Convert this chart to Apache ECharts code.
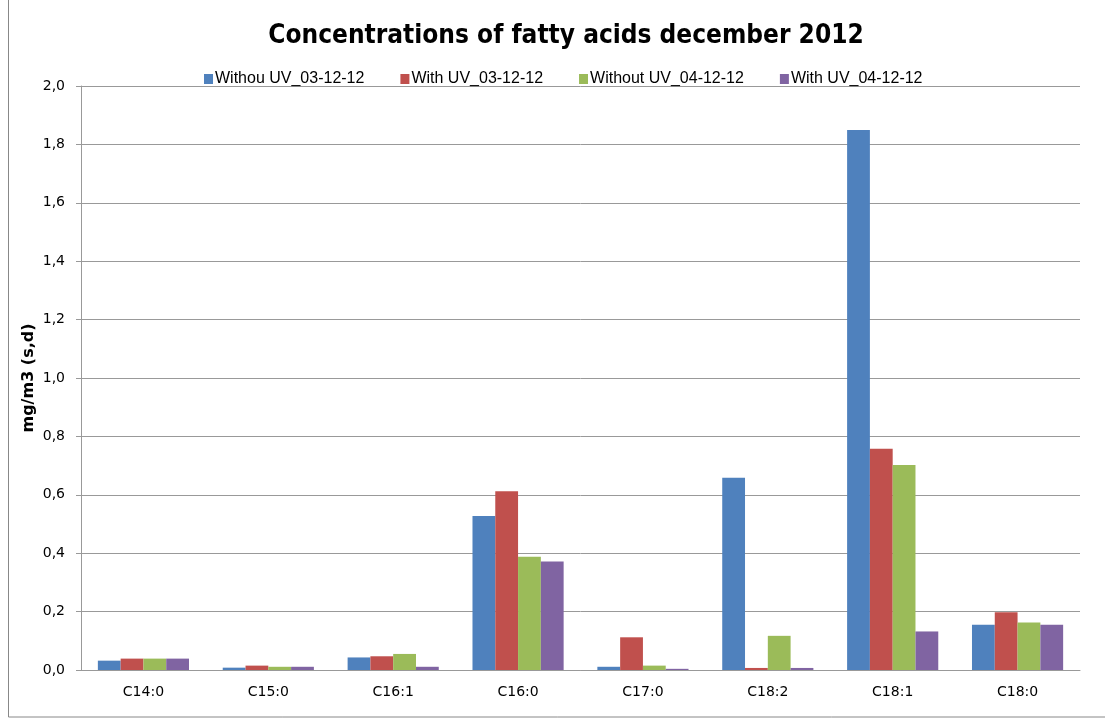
<!DOCTYPE html>
<html>
<head>
<meta charset="utf-8">
<script src="https://cdn.jsdelivr.net/npm/echarts@6/dist/echarts.min.js"></script>
<style>
  html, body { margin: 0; padding: 0; background: #fff; }
  #chart { width: 1105px; height: 721px; }
</style>
</head>
<body>
<div id="chart"></div>
<script>
// fatty acid categories
const categories = ['C14:0', 'C15:0', 'C16:1', 'C16:0', 'C17:0', 'C18:2', 'C18:1', 'C18:0'];
const seriesNames = ['Withou UV_03-12-12', 'With UV_03-12-12', 'Without UV_04-12-12', 'With UV_04-12-12'];
// values in mg/m3
const withoutUv0312 = [0.032, 0.008, 0.043, 0.527, 0.011, 0.658, 1.849, 0.155];
const withUv0312 = [0.039, 0.015, 0.047, 0.612, 0.112, 0.007, 0.758, 0.198];
const withoutUv0412 = [0.039, 0.011, 0.055, 0.388, 0.015, 0.117, 0.702, 0.163];
const withUv0412 = [0.039, 0.011, 0.011, 0.372, 0.004, 0.007, 0.132, 0.155];
const colors = ['#4f81bd', '#c0504d', '#9bbb59', '#8064a2'];

const chart = echarts.init(document.getElementById('chart'));

const allData = [withoutUv0312, withUv0312, withoutUv0412, withUv0412];
const series = allData.map((d, i) => ({
  name: seriesNames[i],
  type: 'bar',
  data: d,
  barGap: '0%',
  barCategoryGap: '27%',
  itemStyle: { color: colors[i] }
}));

chart.setOption({
  animation: false,
  color: colors,
  title: {
    text: 'Concentrations of fatty acids december 2012',
    left: 561,
    textAlign: 'center',
    top: 18,
    textStyle: { fontFamily: 'DejaVu Sans Condensed, DejaVu Sans', fontSize: 26, fontWeight: 'bold', color: '#000' }
  },
  legend: {
    top: 66,
    left: 199,
    itemWidth: 9,
    itemHeight: 10,
    itemGap: 36,
    icon: 'rect',
    textStyle: { fontFamily: 'Liberation Sans', fontSize: 16, color: '#000', padding: [0, 0, 0, -3] },
    data: seriesNames
  },
  graphic: [{
    type: 'rect',
    shape: { x: 8.5, y: -2, width: 1200, height: 719 },
    style: { fill: 'none', stroke: '#888', lineWidth: 1 },
    silent: true
  }],
  grid: { left: 81, right: 25, top: 86, bottom: 51 },
  xAxis: {
    type: 'category',
    data: categories,
    axisLine: { lineStyle: { color: '#999' } },
    axisTick: { length: 5, lineStyle: { color: '#999' } },
    axisLabel: { fontFamily: 'DejaVu Sans', fontSize: 14, color: '#000', margin: 15 }
  },
  yAxis: {
    type: 'value',
    min: 0,
    max: 2,
    interval: 0.2,
    name: 'mg/m3 (s,d)',
    nameLocation: 'middle',
    nameGap: 44,
    nameMoveOverlap: false,
    nameTextStyle: { fontFamily: 'DejaVu Sans', fontSize: 16, fontWeight: 'bold', color: '#000' },
    axisLine: { show: true, lineStyle: { color: '#999' } },
    axisTick: { show: true, length: 5, lineStyle: { color: '#999' } },
    splitLine: { lineStyle: { color: '#999', width: 1 } },
    axisLabel: {
      fontFamily: 'DejaVu Sans',
      fontSize: 14,
      color: '#000',
      margin: 16,
      formatter: v => v.toFixed(1).replace('.', ',')
    }
  },
  series: series
});
</script>
</body>
</html>
